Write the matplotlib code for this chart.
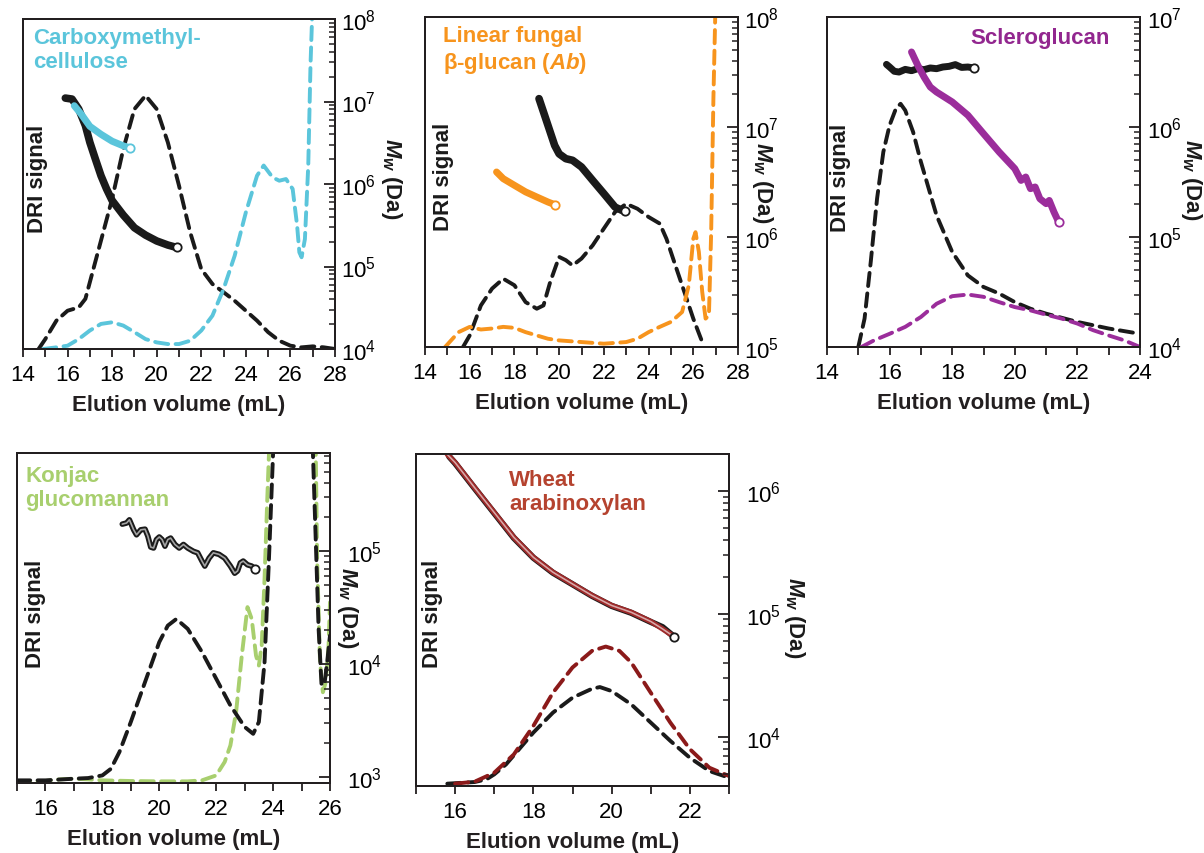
import numpy as np
import matplotlib
matplotlib.use('Agg')
import matplotlib.pyplot as plt
from matplotlib.ticker import LogLocator, MultipleLocator, NullFormatter, FuncFormatter, NullLocator

plt.rcParams['font.family'] = ['Liberation Sans', 'DejaVu Sans']
plt.rcParams['mathtext.fontset'] = 'custom'
plt.rcParams['mathtext.rm'] = 'Liberation Sans'
plt.rcParams['mathtext.it'] = 'Liberation Sans:italic:bold'
plt.rcParams['mathtext.bf'] = 'Liberation Sans:bold'

# ---------------- colours ----------------
CYAN = '#5BC5DB'
ORANGE = '#F7941D'
PURPLE = '#92278F'
GREEN = '#A8CF6E'
WHEAT_T = '#B5432F'
WHEAT_L = '#8B1A1A'
BLACK = '#1A1A1A'

# ---------------- Panel 1: Carboxymethylcellulose ----------------
cmc_dri_bk_x = [14.7, 15.0, 15.5, 16.0, 16.5, 16.8, 17.2, 17.6, 18.0, 18.5, 19.0, 19.5, 20.0, 20.5, 21.0,
                21.5, 22.0, 22.5, 23.0, 23.5, 24.0, 24.5, 25.0, 25.5, 26.0, 26.5, 27.0, 27.5, 28.0]
cmc_dri_bk_y = [0.0, 0.030, 0.086, 0.116, 0.126, 0.152, 0.253, 0.354, 0.455, 0.606, 0.727, 0.768, 0.727, 0.626, 0.495,
                0.354, 0.242, 0.197, 0.172, 0.146, 0.116, 0.086, 0.051, 0.025, 0.010, 0.005, 0.008, 0.005, 0.0]
cmc_dri_cy_x = [14.9, 15.5, 16.0, 16.5, 17.0, 17.5, 18.0, 18.5, 19.0, 19.5, 20.0, 20.5, 21.0, 21.5, 22.0, 22.5,
                23.0, 23.5, 24.0, 24.5, 24.8, 25.2, 25.5, 25.8, 26.1, 26.3, 26.4, 26.5, 26.65, 26.8, 26.9, 27.0]
cmc_dri_cy_y = [0.0, 0.005, 0.010, 0.030, 0.056, 0.076, 0.081, 0.071, 0.051, 0.030, 0.020, 0.015, 0.015, 0.025, 0.056, 0.101,
                0.182, 0.283, 0.414, 0.525, 0.556, 0.520, 0.510, 0.515, 0.485, 0.374, 0.293, 0.278, 0.333, 0.556, 0.859, 1.06]
cmc_mw_bk_x = [15.9, 16.2, 16.5, 16.8, 17.0, 17.25, 17.5, 17.75, 18.0, 18.5, 19.0, 19.5, 20.0, 20.5, 20.9]
cmc_mw_bk_y = [1.10e7, 1.07e7, 8.1e6, 5.1e6, 3.2e6, 2.0e6, 1.26e6, 8.7e5, 6.3e5, 4.2e5, 2.95e5, 2.4e5, 2.04e5, 1.82e5, 1.70e5]
cmc_mw_cy_x = [16.3, 16.6, 17.0, 17.5, 18.0, 18.5, 18.8]
cmc_mw_cy_y = [8.9e6, 7.1e6, 5.0e6, 4.0e6, 3.3e6, 2.9e6, 2.75e6]

# ---------------- Panel 2: Linear fungal beta-glucan ----------------
lfg_dri_bk_x = [15.7, 16.0, 16.5, 17.0, 17.5, 18.0, 18.5, 19.0, 19.3, 19.6, 20.0, 20.3, 20.6, 21.0, 21.5, 22.0,
                22.5, 23.0, 23.5, 24.0, 24.5, 24.8, 25.2, 25.6, 26.0, 26.4]
lfg_dri_bk_y = [0.0, 0.035, 0.126, 0.177, 0.207, 0.187, 0.136, 0.116, 0.126, 0.197, 0.273, 0.263, 0.247, 0.268, 0.308, 0.359,
                0.409, 0.434, 0.419, 0.394, 0.374, 0.328, 0.247, 0.167, 0.086, 0.015]
lfg_dri_or_x = [14.9, 15.5, 16.0, 16.5, 17.0, 17.5, 18.0, 18.5, 19.0, 19.5, 20.0, 21.0, 22.0, 23.0, 23.5, 24.0,
                24.5, 25.0, 25.5, 25.8, 26.0, 26.1, 26.25, 26.4, 26.55, 26.7, 26.8, 26.9, 27.0]
lfg_dri_or_y = [0.0, 0.045, 0.061, 0.053, 0.056, 0.061, 0.058, 0.045, 0.035, 0.025, 0.020, 0.015, 0.010, 0.015, 0.025, 0.045,
                0.061, 0.076, 0.106, 0.187, 0.328, 0.348, 0.288, 0.167, 0.086, 0.096, 0.348, 0.753, 1.06]
lfg_mw_bk_x = [19.1, 19.3, 19.6, 19.8, 20.0, 20.3, 20.6, 21.0, 21.5, 22.0, 22.5, 22.8, 22.95]
lfg_mw_bk_y = [1.81e7, 1.37e7, 9.0e6, 6.8e6, 5.7e6, 5.15e6, 4.98e6, 4.33e6, 3.27e6, 2.48e6, 1.87e6, 1.75e6, 1.72e6]
lfg_mw_or_x = [17.2, 17.5, 18.0, 18.5, 19.0, 19.5, 19.8]
lfg_mw_or_y = [3.9e6, 3.39e6, 2.95e6, 2.57e6, 2.31e6, 2.08e6, 1.97e6]

# ---------------- Panel 3: Scleroglucan ----------------
scl_dri_bk_x = [15.0, 15.2, 15.4, 15.6, 15.8, 16.0, 16.2, 16.35, 16.5, 16.75, 17.0, 17.5, 18.0, 18.5, 19.0, 19.5,
                20.0, 20.5, 21.0, 22.0, 23.0, 24.0]
scl_dri_bk_y = [0.0, 0.086, 0.260, 0.450, 0.591, 0.672, 0.722, 0.737, 0.717, 0.652, 0.561, 0.399, 0.288, 0.217, 0.182, 0.162,
                0.136, 0.116, 0.101, 0.076, 0.056, 0.040]
scl_dri_pu_x = [15.1, 15.5, 16.0, 16.5, 17.0, 17.5, 18.0, 18.5, 19.0, 19.5, 20.0, 20.5, 21.0, 21.5, 22.0, 22.5,
                23.0, 23.5, 24.0]
scl_dri_pu_y = [0.0, 0.020, 0.040, 0.061, 0.091, 0.131, 0.154, 0.159, 0.152, 0.136, 0.121, 0.111, 0.098, 0.086, 0.071, 0.051,
                0.035, 0.020, 0.0]
scl_mw_bk_x = [15.9, 16.0, 16.15, 16.3, 16.5, 16.7, 16.9, 17.1, 17.3, 17.5, 17.7, 17.9, 18.1, 18.3, 18.5, 18.7]
scl_mw_bk_y = [3.71e6, 3.51e6, 3.21e6, 3.16e6, 3.34e6, 3.25e6, 3.39e6, 3.32e6, 3.44e6, 3.39e6, 3.51e6, 3.56e6, 3.69e6,
               3.48e6, 3.51e6, 3.44e6]
scl_mw_pu_x = [16.7, 16.8, 16.9, 17.1, 17.3, 17.5, 18.0, 18.5, 19.0, 19.5, 20.0, 20.2, 20.35, 20.5, 20.65, 20.8,
               21.0, 21.1, 21.25, 21.4]
scl_mw_pu_y = [4.81e6, 4.18e6, 3.64e6, 2.85e6, 2.31e6, 2.08e6, 1.69e6, 1.28e6, 8.7e5, 5.93e5, 4.18e5, 3.27e5, 3.51e5,
               2.75e5, 2.85e5, 2.23e5, 2.01e5, 2.15e5, 1.69e5, 1.37e5]

# ---------------- Panel 4: Konjac glucomannan ----------------
kgm_dri_bk_x = [15.0, 16.0, 17.0, 17.5, 18.0, 18.3, 18.6, 19.0, 19.5, 20.0, 20.3, 20.6, 21.0, 21.5, 22.0, 22.5,
                23.0, 23.3, 23.5, 23.7, 23.85, 24.0, 24.1, 25.3, 25.4, 25.6, 25.7, 25.8, 25.9, 26.0]
kgm_dri_bk_y = [0.008, 0.008, 0.013, 0.015, 0.023, 0.043, 0.094, 0.185, 0.306, 0.427, 0.477, 0.497, 0.467, 0.397, 0.316, 0.235,
                0.170, 0.149, 0.185, 0.366, 0.669, 1.0, 1.3, 1.3, 1.0, 0.467, 0.301, 0.296, 0.366, 0.447]
kgm_dri_gr_x = [15.0, 16.0, 16.5, 17.0, 17.5, 18.0, 19.0, 20.0, 21.0, 21.5, 22.0, 22.3, 22.5, 22.7, 22.9, 23.1,
                23.25, 23.4, 23.5, 23.6, 23.7, 23.8, 23.9, 25.4, 25.5, 25.55, 25.65, 25.75, 25.85, 25.95, 26.0]
kgm_dri_gr_y = [0.005, 0.006, 0.011, 0.013, 0.011, 0.008, 0.006, 0.005, 0.005, 0.008, 0.023, 0.064, 0.114, 0.215, 0.386, 0.533,
                0.497, 0.386, 0.356, 0.417, 0.619, 0.871, 1.1, 1.3, 1.0, 0.669, 0.366, 0.275, 0.306, 0.417, 0.548]
kgm_mw_bk_x = [18.7, 18.85, 18.95, 19.1, 19.2, 19.35, 19.5, 19.6, 19.7, 19.8, 19.9, 20.0, 20.1, 20.2, 20.3, 20.4,
               20.55, 20.7, 20.85, 21.0, 21.2, 21.35, 21.5, 21.6, 21.75, 21.9, 22.1, 22.3, 22.5, 22.65, 22.75, 22.85,
               22.95, 23.1, 23.25, 23.35]
kgm_mw_bk_y = [1.74e5, 1.78e5, 1.90e5, 1.55e5, 1.40e5, 1.55e5, 1.57e5, 1.36e5, 1.09e5, 1.07e5, 1.27e5, 1.34e5, 1.27e5,
               1.11e5, 1.27e5, 1.31e5, 1.15e5, 1.07e5, 1.15e5, 1.07e5, 1.0e5, 9.7e4, 8.2e4, 7.4e4, 8.7e4, 9.7e4,
               9.4e4, 8.7e4, 7.4e4, 6.4e4, 6.7e4, 7.9e4, 8.2e4, 7.6e4, 7.4e4, 7.0e4]

# ---------------- Panel 5: Wheat arabinoxylan ----------------
wax_dri_bk_x = [15.8, 16.5, 16.8, 17.0, 17.3, 17.6, 18.0, 18.5, 19.0, 19.5, 19.7, 20.0, 20.5, 21.0, 21.5, 22.0, 22.5, 23.0]
wax_dri_bk_y = [0.007, 0.012, 0.020, 0.035, 0.065, 0.106, 0.161, 0.221, 0.266, 0.293, 0.298, 0.286, 0.246, 0.191, 0.136,
                0.085, 0.045, 0.025]
wax_dri_rd_x = [16.0, 16.5, 17.0, 17.5, 18.0, 18.5, 19.0, 19.5, 19.85, 20.2, 20.5, 21.0, 21.5, 22.0, 22.5, 23.0]
wax_dri_rd_y = [0.007, 0.013, 0.040, 0.095, 0.181, 0.281, 0.357, 0.407, 0.420, 0.407, 0.372, 0.281, 0.191, 0.111, 0.055,
                0.030]
wax_mw_bk_x = [15.85, 16.0, 16.5, 17.0, 17.5, 18.0, 18.5, 19.0, 19.5, 20.0, 20.5, 21.0, 21.3, 21.6]
wax_mw_bk_y = [1.90e6, 1.68e6, 1.05e6, 6.6e5, 4.15e5, 2.86e5, 2.16e5, 1.74e5, 1.40e5, 1.16e5, 1.02e5, 8.6e4, 7.8e4, 6.5e4]
wax_mw_rd_x = [15.8, 16.0, 16.5, 17.0, 17.5, 18.0, 18.5, 19.0, 19.5, 20.0, 20.5, 21.0, 21.3, 21.55]
wax_mw_rd_y = [1.98e6, 1.70e6, 1.06e6, 6.67e5, 4.19e5, 2.88e5, 2.18e5, 1.75e5, 1.41e5, 1.17e5, 1.03e5, 8.67e4, 7.55e4, 6.67e4]

# ---------------- figure ----------------
W, H = 1204, 854
fig = plt.figure(figsize=(W / 100, H / 100), dpi=100)
SPINE = '#231F20'
DASH = (0, (3.4, 1.9))
DLW = 2.8
FS_TICK = 16
FS_LAB = 16
FS_TITLE = 16


def rect(l, r, t, b):
    return [l / W, 1 - b / H, (r - l) / W, (b - t) / H]


def panel(px, xlim, ylog, title, tcolor, txy, dri_xy, mw_xy, lab_pad):
    ax = fig.add_axes(rect(*px))
    ax.set_xlim(*xlim)
    ax.set_ylim(0, 1)
    ax.yaxis.set_major_locator(NullLocator())
    ax.xaxis.set_major_locator(MultipleLocator(2))
    ax.xaxis.set_minor_locator(MultipleLocator(1))
    ax.tick_params(axis='x', which='both', direction='out', length=6, width=1.3,
                   labelsize=FS_TICK, pad=5, color=SPINE)
    ax.set_xlabel('Elution volume (mL)', fontsize=FS_LAB, fontweight='bold', labelpad=6, color='#231F20')
    ax2 = ax.twinx()
    ax2.set_yscale('log')
    ax2.set_ylim(10 ** ylog[0], 10 ** ylog[1])
    ax2.yaxis.set_major_locator(LogLocator(base=10, numticks=20))
    ax2.yaxis.set_minor_locator(LogLocator(base=10, subs=np.arange(2, 10), numticks=20))
    ax2.yaxis.set_minor_formatter(NullFormatter())
    ax2.yaxis.set_major_formatter(FuncFormatter(
        lambda v, p: r'$\mathregular{10^{%d}}$' % int(round(np.log10(v)))))
    ax2.tick_params(axis='y', which='major', direction='in', length=8, width=1.3,
                    labelsize=FS_TICK, pad=lab_pad, color=SPINE)
    ax2.tick_params(axis='y', which='minor', direction='in', length=4.5, width=1.1, color=SPINE)
    for a in (ax, ax2):
        for s in a.spines.values():
            s.set_linewidth(1.4)
            s.set_color(SPINE)
    ax.text(txy[0], txy[1], title, transform=ax.transAxes, ha='left', va='top',
            fontsize=FS_TITLE, fontweight='bold', color=tcolor, linespacing=1.2, zorder=10)
    ax.text(dri_xy[0], dri_xy[1], 'DRI signal', transform=ax.transAxes, rotation=90,
            ha='center', va='center', fontsize=FS_TITLE, fontweight='bold', color='#1A1A1A')
    ax2.text(mw_xy[0], mw_xy[1], r'$M_w$ (Da)', transform=ax2.transAxes, rotation=270,
             ha='center', va='center', fontsize=FS_LAB, fontweight='bold', color='#1A1A1A')
    return ax, ax2


def dri(ax, x, y, color):
    ax.plot(x, y, color=color, lw=DLW, linestyle=DASH, dash_capstyle='round')


def mw(ax2, x, y, color, lw=5.0, hollow=False, end=True):
    ax2.plot(x, y, '-', color=color, lw=lw, solid_capstyle='round', solid_joinstyle='round')
    if hollow:
        ax2.plot(x, y, '-', color='white', lw=lw * 0.3, alpha=0.6,
                 solid_capstyle='round', solid_joinstyle='round')
    if end:
        ax2.plot(x[-1], y[-1], 'o', ms=6, mfc='white', mec=color, mew=1.3, zorder=5)


# Panel 1
ax, ax2 = panel((23, 335, 20, 350), (14, 28), (4, 8), 'Carboxymethyl-\ncellulose', CYAN,
                (0.032, 0.975), (0.045, 0.52), (1.18, 0.52), 4)
dri(ax, cmc_dri_bk_x, cmc_dri_bk_y, BLACK)
dri(ax, cmc_dri_cy_x, cmc_dri_cy_y, CYAN)
mw(ax2, cmc_mw_bk_x, cmc_mw_bk_y, BLACK, lw=5.5)
mw(ax2, cmc_mw_cy_x, cmc_mw_cy_y, CYAN, lw=5.0)

# Panel 2
ax, ax2 = panel((425, 738, 18, 348), (14, 28), (5, 8), 'Linear fungal\n' + r'β-glucan ($Ab$)', ORANGE,
                (0.058, 0.975), (0.058, 0.52), (1.078, 0.50), 4)
dri(ax, lfg_dri_bk_x, lfg_dri_bk_y, BLACK)
dri(ax, lfg_dri_or_x, lfg_dri_or_y, ORANGE)
mw(ax2, lfg_mw_bk_x, lfg_mw_bk_y, BLACK, lw=5.5)
mw(ax2, lfg_mw_or_x, lfg_mw_or_y, ORANGE, lw=5.0)

# Panel 3
ax, ax2 = panel((827, 1140, 18, 348), (14, 24), (4, 7), 'Scleroglucan', PURPLE,
                (0.457, 0.97), (0.042, 0.515), (1.165, 0.51), 5)
dri(ax, scl_dri_bk_x, scl_dri_bk_y, BLACK)
dri(ax, scl_dri_pu_x, scl_dri_pu_y, '#9B2D9B')
mw(ax2, scl_mw_bk_x, scl_mw_bk_y, BLACK, lw=5.0)
mw(ax2, scl_mw_pu_x, scl_mw_pu_y, '#9B2D9B', lw=5.0)

# Panel 4
ax, ax2 = panel((17, 330, 454, 784), (15, 26), (2.95, 5.87), 'Konjac\nglucomannan', GREEN,
                (0.026, 0.965), (0.058, 0.515), (1.055, 0.535), 12)
dri(ax, kgm_dri_gr_x, kgm_dri_gr_y, GREEN)
dri(ax, kgm_dri_bk_x, kgm_dri_bk_y, BLACK)
mw(ax2, kgm_mw_bk_x, kgm_mw_bk_y, BLACK, lw=4.0, hollow=True)

# Panel 5
ax, ax2 = panel((416, 729, 455, 787), (15, 23), (3.60, 6.30), 'Wheat\narabinoxylan', WHEAT_T,
                (0.297, 0.955), (0.054, 0.52), (1.21, 0.51), 12)
dri(ax, wax_dri_bk_x, wax_dri_bk_y, BLACK)
dri(ax, wax_dri_rd_x, wax_dri_rd_y, WHEAT_L)
mw(ax2, wax_mw_bk_x, wax_mw_bk_y, BLACK, lw=4.5, end=True)
mw(ax2, wax_mw_rd_x, wax_mw_rd_y, '#9E2A2A', lw=3.8, hollow=True, end=False)

fig.savefig('out.png', dpi=100)
